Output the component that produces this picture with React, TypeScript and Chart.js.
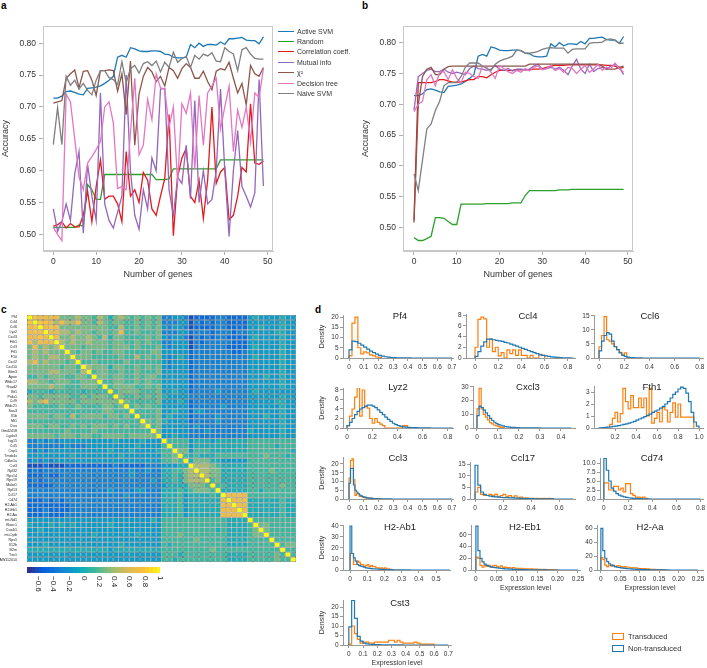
import React, { useEffect, useRef } from 'react';
import { Chart, registerables } from 'chart.js';

Chart.register(...registerables);

const FONT = '"Liberation Sans", Arial, Helvetica, sans-serif';
Chart.defaults.font.family = FONT;
Chart.defaults.color = '#333';

// ================= Panels a & b : accuracy vs number of genes =================
const numGenes = [0,1,2,3,4,5,6,7,8,9,10,11,12,13,14,15,16,17,18,19,20,21,22,23,24,25,26,27,28,29,30,31,32,33,34,35,36,37,38,39,40,41,42,43,44,45,46,47,48,49];
const geneTicks = [0, 10, 20, 30, 40, 50];
const accuracyTicks = [0.5, 0.55, 0.6, 0.65, 0.7, 0.75, 0.8];
const methodNames = ['Active SVM', 'Random', 'Correlation coeff.', 'Mutual info', 'χ²', 'Decision tree', 'Naive SVM'];
const methodColors = ['#1f77b4', '#2ca02c', '#e31a1c', '#9467bd', '#8c564b', '#e377c2', '#7f7f7f'];

const activeSvm = [0.714,0.714,0.717,0.724,0.725,0.723,0.720,0.719,0.729,0.730,0.731,0.733,0.737,0.742,0.748,0.778,0.781,0.778,0.793,0.791,0.788,0.787,0.787,0.788,0.788,0.787,0.783,0.782,0.778,0.777,0.777,0.778,0.798,0.793,0.800,0.795,0.798,0.798,0.797,0.802,0.798,0.807,0.807,0.808,0.809,0.805,0.804,0.804,0.799,0.810];

const aRandom = [0.511,0.511,0.511,0.511,0.511,0.511,0.515,0.513,0.578,0.570,0.555,0.555,0.594,0.594,0.594,0.594,0.594,0.594,0.594,0.594,0.594,0.594,0.594,0.594,0.586,0.586,0.586,0.587,0.603,0.603,0.603,0.603,0.603,0.603,0.603,0.603,0.603,0.603,0.603,0.617,0.617,0.617,0.617,0.617,0.617,0.617,0.617,0.617,0.617,0.617];
const aCorr = [0.513,0.515,0.520,0.510,0.517,0.512,0.512,0.530,0.568,0.520,0.575,0.617,0.555,0.560,0.560,0.548,0.520,0.630,0.560,0.570,0.550,0.597,0.585,0.540,0.530,0.560,0.588,0.688,0.498,0.590,0.620,0.635,0.560,0.550,0.585,0.525,0.585,0.700,0.580,0.598,0.605,0.523,0.530,0.560,0.605,0.598,0.705,0.612,0.610,0.615];
const aMutual = [0.540,0.505,0.520,0.548,0.522,0.595,0.630,0.502,0.610,0.560,0.522,0.722,0.548,0.522,0.510,0.535,0.560,0.750,0.600,0.530,0.508,0.570,0.540,0.620,0.600,0.728,0.729,0.570,0.530,0.590,0.580,0.640,0.556,0.710,0.550,0.600,0.548,0.555,0.600,0.728,0.600,0.497,0.600,0.663,0.575,0.560,0.543,0.565,0.743,0.576];
const aChi2 = [0.706,0.708,0.710,0.745,0.752,0.758,0.730,0.756,0.757,0.742,0.718,0.757,0.757,0.758,0.757,0.725,0.752,0.688,0.772,0.640,0.720,0.748,0.762,0.755,0.740,0.748,0.733,0.762,0.757,0.745,0.760,0.768,0.762,0.745,0.745,0.756,0.740,0.727,0.756,0.760,0.758,0.770,0.745,0.722,0.737,0.703,0.765,0.752,0.748,0.762];
const aTree = [0.511,0.500,0.490,0.720,0.708,0.650,0.590,0.570,0.612,0.622,0.633,0.646,0.700,0.708,0.675,0.572,0.575,0.570,0.660,0.745,0.625,0.640,0.712,0.680,0.752,0.730,0.728,0.668,0.700,0.580,0.705,0.690,0.722,0.602,0.718,0.640,0.722,0.733,0.745,0.665,0.700,0.733,0.630,0.695,0.668,0.700,0.645,0.722,0.715,0.760];
const aNaive = [0.641,0.699,0.641,0.748,0.734,0.742,0.728,0.737,0.726,0.719,0.742,0.757,0.757,0.746,0.743,0.735,0.771,0.738,0.760,0.765,0.753,0.768,0.771,0.765,0.772,0.755,0.770,0.762,0.786,0.770,0.776,0.779,0.762,0.781,0.775,0.783,0.780,0.785,0.772,0.771,0.793,0.787,0.783,0.757,0.790,0.793,0.783,0.776,0.775,0.775];

const bRandom = [0.484,0.479,0.479,0.482,0.486,0.516,0.516,0.515,0.510,0.505,0.505,0.538,0.538,0.538,0.538,0.538,0.538,0.539,0.539,0.539,0.539,0.539,0.539,0.540,0.540,0.540,0.552,0.560,0.560,0.560,0.560,0.560,0.560,0.560,0.561,0.561,0.561,0.562,0.562,0.562,0.562,0.562,0.562,0.562,0.562,0.562,0.562,0.562,0.562,0.562];
const bCorr = [0.512,0.735,0.735,0.735,0.735,0.737,0.740,0.740,0.738,0.736,0.736,0.736,0.738,0.740,0.740,0.745,0.745,0.743,0.748,0.752,0.755,0.755,0.755,0.755,0.756,0.756,0.756,0.756,0.757,0.757,0.758,0.760,0.762,0.763,0.763,0.763,0.764,0.764,0.764,0.764,0.764,0.764,0.764,0.764,0.764,0.763,0.763,0.762,0.758,0.760];
const bMutual = [0.690,0.745,0.750,0.755,0.757,0.753,0.753,0.757,0.752,0.750,0.752,0.750,0.748,0.758,0.762,0.758,0.757,0.755,0.757,0.763,0.757,0.755,0.758,0.754,0.757,0.757,0.756,0.757,0.762,0.765,0.757,0.758,0.760,0.757,0.760,0.755,0.748,0.762,0.773,0.757,0.750,0.765,0.753,0.758,0.760,0.757,0.762,0.765,0.760,0.748];
const bChi2 = [0.508,0.700,0.745,0.757,0.760,0.748,0.748,0.757,0.761,0.762,0.762,0.762,0.762,0.762,0.762,0.762,0.762,0.762,0.762,0.762,0.762,0.762,0.762,0.762,0.762,0.762,0.762,0.765,0.765,0.765,0.765,0.765,0.765,0.765,0.765,0.765,0.765,0.765,0.765,0.765,0.765,0.765,0.765,0.765,0.762,0.757,0.757,0.757,0.760,0.762];
const bTree = [0.688,0.700,0.705,0.740,0.748,0.730,0.752,0.753,0.740,0.756,0.742,0.735,0.752,0.750,0.745,0.742,0.762,0.760,0.752,0.742,0.763,0.758,0.753,0.750,0.755,0.752,0.758,0.754,0.760,0.762,0.756,0.758,0.763,0.755,0.758,0.752,0.760,0.758,0.750,0.757,0.763,0.752,0.757,0.765,0.755,0.760,0.758,0.767,0.758,0.752];
const bNaive = [0.587,0.560,0.610,0.660,0.668,0.690,0.705,0.730,0.735,0.735,0.735,0.745,0.760,0.767,0.767,0.767,0.762,0.758,0.755,0.765,0.770,0.773,0.775,0.778,0.788,0.787,0.783,0.783,0.784,0.786,0.789,0.791,0.792,0.791,0.791,0.791,0.783,0.789,0.790,0.790,0.790,0.799,0.800,0.800,0.801,0.805,0.806,0.804,0.799,0.799];

// ================= Panel c : gene-gene correlation heatmap =================
const heatGenes = ['Pf4','Ccl4','Ccl6','Lyz2','Cxcl3','Fth1','Ccl3','Ftl1','F10','Cxcl2','Cxcl10','Ifitm3','Apoe','Wfdc17','Rsad2','Ifit1','Prdx1','Ccl9','Wfdc21','Saa3','Il1b','Mt1','Ctss','Gm42418','Lgals3','Isg15','Ccl5','Crip1','Tmsb4x','Cdkn1a','Cst3','Rpl32','Rps14','Rps19','Malat1','Rpl13','Ccl17','Cd74','H2-Ab1','H2-Eb1','H2-Aa','mt-Nd1','Vkorc1','Cox4i1','mt-Cytb','Rps5','Il12b','B2m','Txn1','AW112010'];
// correlation value for each level code used in corrLower
const corrLevels = [-0.6, -0.45, -0.3, -0.15, 0, 0.13, 0.26, 0.42, 0.7, 0.8];
// lower triangle: row r holds the codes of columns 0..r-1 (spaces only for readability)
const corrLower = [
  '',
  '9',
  '89',
  '898',
  '8898',
  '87888',
  '68676 7',
  '67676 66',
  '67667 766',
  '78676 6656',
  '66666 65665',
  '66667 76665 7',
  '55656 66556 65',
  '77665 66655 666',
  '66667 66555 6665',
  '45554 55555 45555',
  '66566 66655 65666 5',
  '76786 66665 66666 66',
  '65555 56556 55556 656',
  '55555 55555 55556 6555',
  '66665 66575 66665 66565',
  '55555 55555 55555 55555 5',
  '66656 65565 65666 56565 56',
  '55555 55655 55655 55555 555',
  '66666 56665 66556 66656 6666',
  '22323 23333 33333 34333 34333',
  '22222 22322 23333 33333 43333 5',
  '32323 33333 33333 43334 33334 55',
  '33333 33343 33333 33433 33333 556',
  '23232 33333 33333 33333 33333 5565',
  '00010 00111 11111 12111 11222 33344',
  '12122 22222 22222 22223 22322 44556 7',
  '11121 12222 22222 22223 22222 44546 77',
  '12122 22222 22222 22222 22232 44546 777',
  '11111 22222 22222 22222 22222 34444 6665',
  '22222 22222 22222 32222 33222 44454 56665',
  '22222 22222 22222 22232 22222 44453 44445 4',
  '11121 21222 22222 22222 22222 44453 44444 48',
  '11111 11122 22222 22222 22222 44453 44444 488',
  '11121 11122 22222 22222 22222 44453 44444 4888',
  '11121 11222 22222 22222 22222 44453 44444 48888',
  '33333 33333 33333 33333 33343 55555 55555 55444 4',
  '43334 34343 33333 43333 33333 55555 55555 55444 45',
  '33433 33333 33333 33333 33333 55555 55555 45444 456',
  '33333 33333 33433 33333 43333 55565 55555 55444 4566',
  '33333 33333 33333 33333 33333 55555 56555 55444 45555',
  '33343 33333 33333 33433 33333 54555 55555 55444 45555 5',
  '44444 44444 44444 34444 44444 55555 55556 55555 55555 55',
  '33333 33333 33333 33333 33333 55545 55555 55444 45555 565',
  '33333 33333 33333 33333 33333 55455 55555 55444 45555 5655',
];
const colorbarTicks = [-0.6, -0.4, -0.2, 0, 0.2, 0.4, 0.6, 0.8, 1];
const colorbarTickLabels = ['−0.6', '−0.4', '−0.2', '0', '0.2', '0.4', '0.6', '0.8', '1'];

// ================= Panel d : expression-level histograms =================
const pf4Orange = [1,17,20,5,2,3,2.5,1.5,1,0.5,0.3];
const pf4Blue = [4,8.2,8,7.2,6.3,5.3,4.3,3.4,2.6,1.9,1.3,0.9,0.6,0.4,0.25,0.15,0.1,0.07,0.05,0.04,0.03];
const ccl4Orange = [2,7.2,7.6,7.3,2,3.5,1.2,2,0.4,1,0,1.5,0.8,1.5,0.5,1.5,0.5,0.5,0,0.5,0,0,0.7,0.5];
const ccl4Blue = [0.3,1.2,2.2,3.0,3.5,3.5,3.4,3.3,3.2,3.1,2.9,2.8,2.6,2.4,2.2,2.0,1.8,1.6,1.4,1.2,1.0,0.8,0.6,0.5,0.4,0.3,0.2,0.15,0.1,0.07,0.04,0.02,0.01];
const ccl6Orange = [4,8,14.7,6.5,6,5,4,3,2,1,1.8];
const ccl6Blue = [2.5,6,8,9,8.5,6,4,3,1.8,1,0.6,0.3,0.15,0.1,0.05,0.03,0.02];
const lyz2Orange = [0.5,2.5,4,6.5,8.5,2.5,8,4.5,4.2,2,1,2,1.2,0.8,0.5,0,0,0,0,0,0,0,0.5,0.5];
const lyz2Blue = [0.5,1.2,2,2.8,3.5,4,4.3,4.6,4.8,4.8,4.6,4.3,3.8,3.3,2.8,2.3,1.8,1.4,1.0,0.7,0.5,0.35,0.25,0.2,0.15,0.1,0.08,0.06,0.04,0.03,0.02,0.02,0.01];
const cxcl3Orange = [14,29,14,10,8,6,4,3,2,1.5,1,0.5,0.3];
const cxcl3Blue = [9,16,15,13,11,9,7,5.5,4.2,3.2,2.5,2,1.5,1.1,0.8,0.6,0.5,0.4,0.3,0.25,0.2,0.15,0.12,0.1,0.08,0.06,0.05,0.04,0.03,0.02];
const fth1Orange = [0.3,0.8,1.3,0.5,1.2,3.3,2.2,1.6,2.7,1.7,1.7,2.5,1.7,2.5,1.0,3.3,0.4,0.8,1.3,0.5,1.7,1.5,0.5,1.3,2.1,0.9,2.0,0.9,0.9,0.9,0.9,0.9];
const fth1Blue = [0.02,0.03,0.05,0.07,0.1,0.13,0.16,0.2,0.25,0.3,0.35,0.4,0.48,0.55,0.65,0.75,0.85,0.95,1.05,1.15,1.3,1.4,1.5,1.65,1.8,2.0,2.2,2.5,2.8,3.0,3.25,3.4,3.3,2.9,2.2,1.3,0.5,0.15];
const ccl3Orange = [12,22,23,11,2,3,3,1.5,1.5,1,1,0.5,0.5,0.2,0.2,0.5,0.3,0.3,0.2,0.1,0.3,0.2];
const ccl3Blue = [9,17.5,17.5,8,5,4,3,2.3,1.8,1.4,1.1,0.9,0.7,0.6,0.5,0.4,0.3,0.25,0.2,0.15,0.12,0.1,0.08,0.06,0.05,0.04,0.03,0.02,0.02,0.01];
const ccl17Orange = [3,5,2,1.5,1.5,2,1.5,2,1,1.5,2,1,1.5,0.7,1.3,0.5,0.8,0.3,0.5,0.3,0.3,0.2,0.3,0.2,0.3,0.2,0.3,0.2];
const ccl17Blue = [14.5,6,3,2,1.5,1.2,1,0.9,0.8,0.7,0.6,0.55,0.5,0.45,0.4,0.35,0.3,0.25,0.2,0.15,0.12,0.1,0.08,0.06,0.05,0.04,0.03,0.02];
const cd74Orange = [4.5,4.5,2.5,2.5,3.5,3.5,2.5,3,2,4.3,4.3,1.5,1,0.5,0.5,0.3,0.5,0.2];
const cd74Blue = [11.3,8,5,3,2.2,1.5,1.1,0.8,0.6,0.45,0.35,0.25,0.2,0.15,0.1,0.08,0.05,0.03,0.02];
const h2ab1Orange = [15,15,5,5,8,7,5,5,3,4,5,3,4,3,3,2,2,1,2,1,2,1,1,0.5];
const h2ab1Blue = [40,15,11,8,5,4,3.5,3,2.5,2,1.7,1.5,1.3,1.1,1,0.9,0.8,0.7,0.6,0.5,0.45,0.4,0.35,0.3,0.25,0.2,0.18,0.15,0.12,0.1,0.08,0.06,0.05,0.04,0.03,0.02];
const h2eb1Orange = [22,20,8,5,8,6,8,5,7,8,6,5,7,4,5,4,4,3,4,3,3,2,3,2,2,2,1.5,2,1,1.5,1,1,0.5,1,0.5,0.5,0.3,0.5,0.3,0.2];
const h2eb1Blue = [75,33,20,14,10,8,6.5,5.5,4.5,4,3.5,3,2.6,2.3,2,1.8,1.6,1.4,1.2,1.0,0.9,0.8,0.7,0.6,0.5,0.4,0.35,0.3,0.25,0.2,0.15,0.1,0.08,0.06,0.05,0.04,0.03,0.02,0.02,0.01];
const h2aaOrange = [18,15,7,5,7,6,7,5,6,6,5,4,5,4,4,3,3,3,3,2,2,2,2,1.5,1.5,1,1,1,0.5,0.5,0.5,0.3,0.3];
const h2aaBlue = [60,28,17,12,9,7,6,5,4.2,3.6,3.1,2.7,2.3,2,1.8,1.6,1.4,1.2,1.0,0.9,0.8,0.7,0.6,0.5,0.4,0.35,0.3,0.25,0.2,0.15,0.1,0.08,0.06,0.05,0.04,0.03,0.02];
const cst3Orange = [0.5,10,6,3,1,1.5,1.5,1,1,1.5,1.5,1.5,1.5,1.5,2.5,2.5,1.5,2.5,1.5,1,1,1,1,1.5,1,0.5,0.5,0.5,0.5,0.5];
const cst3Blue = [9.5,23.5,14,4.5,2,1,0.6,0.4,0.3,0.2,0.15,0.1,0.08,0.06,0.05,0.04,0.03,0.02,0.02,0.01];

const ticks07 = [0, 0.1, 0.2, 0.3, 0.4, 0.5, 0.6, 0.7];
const ticks08 = [0, 0.2, 0.4, 0.6, 0.8];

const histGenes = [
  { name: 'Pf4', orange: pf4Orange, blue: pf4Blue, oStart: 0, bStart: 0, width: 0.02, end: 0.7, xTicks: ticks07, xDec: 1, yTicks: [0,5,10,15,20], yDec: 0 },
  { name: 'Ccl4', orange: ccl4Orange, blue: ccl4Blue, oStart: 0, bStart: 0, width: 0.025, end: 0.85, xTicks: ticks08, xDec: 1, yTicks: [0,2,4,6,8], yDec: 0 },
  { name: 'Ccl6', orange: ccl6Orange, blue: ccl6Blue, oStart: 0, bStart: 0, width: 0.02, end: 0.8, xTicks: ticks08, xDec: 1, yTicks: [0,5,10,15], yDec: 0 },
  { name: 'Lyz2', orange: lyz2Orange, blue: lyz2Blue, oStart: 0, bStart: 0, width: 0.02, end: 0.84, xTicks: ticks08, xDec: 1, yTicks: [0,2,4,6,8], yDec: 0 },
  { name: 'Cxcl3', orange: cxcl3Orange, blue: cxcl3Blue, oStart: 0, bStart: 0, width: 0.01, end: 0.45, xTicks: [0,0.1,0.2,0.3,0.4], xDec: 1, yTicks: [0,10,20,30], yDec: 0 },
  { name: 'Fth1', orange: fth1Orange, blue: fth1Blue, oStart: 0.15, bStart: 0.05, width: 0.025, end: 1.0, xTicks: [0.2,0.4,0.6,0.8,1.0], xDec: 1, yTicks: [0,1,2,3], yDec: 0 },
  { name: 'Ccl3', orange: ccl3Orange, blue: ccl3Blue, oStart: 0, bStart: 0, width: 0.01, end: 0.7, xTicks: ticks07, xDec: 1, yTicks: [0,5,10,15,20], yDec: 0 },
  { name: 'Ccl17', orange: ccl17Orange, blue: ccl17Blue, oStart: 0, bStart: 0, width: 0.02, end: 0.7, xTicks: [0,0.2,0.4,0.6], xDec: 1, yTicks: [0,5,10,15], yDec: 0 },
  { name: 'Cd74', orange: cd74Orange, blue: cd74Blue, oStart: 0, bStart: 0, width: 0.02, end: 0.8, xTicks: ticks08, xDec: 1, yTicks: [0,2.5,5,7.5,10], yDec: 1 },
  { name: 'H2-Ab1', orange: h2ab1Orange, blue: h2ab1Blue, oStart: 0, bStart: 0, width: 0.01, end: 0.58, xTicks: [0,0.1,0.2,0.3,0.4,0.5], xDec: 1, yTicks: [0,10,20,30,40], yDec: 0 },
  { name: 'H2-Eb1', orange: h2eb1Orange, blue: h2eb1Blue, oStart: 0, bStart: 0, width: 0.005, end: 0.25, xTicks: [0,0.05,0.1,0.15,0.2,0.25], xDec: 2, yTicks: [0,20,40,60], yDec: 0 },
  { name: 'H2-Aa', orange: h2aaOrange, blue: h2aaBlue, oStart: 0, bStart: 0, width: 0.005, end: 0.25, xTicks: [0,0.05,0.1,0.15,0.2,0.25], xDec: 2, yTicks: [0,20,40,60], yDec: 0 },
  { name: 'Cst3', orange: cst3Orange, blue: cst3Blue, oStart: 0, bStart: 0, width: 0.02, end: 0.7, xTicks: ticks07, xDec: 1, yTicks: [0,5,10,15,20], yDec: 0 },
];

// ---------------- layout (positions / ranges, px) ----------------
const histLayout = [
  { L: 343, T: 315, R: 453, B: 358, xMin: -0.041, xMax: 0.707, yMax: 21, tx: 400, ty: 316, ylab: true, xlab: false },
  { L: 466, T: 314, R: 575, B: 358, xMin: -0.078, xMax: 0.862, yMax: 8.2, tx: 528, ty: 316, ylab: false, xlab: false },
  { L: 594, T: 315, R: 703, B: 358, xMin: -0.04, xMax: 0.825, yMax: 15.3, tx: 650, ty: 316, ylab: false, xlab: false },
  { L: 343, T: 388, R: 453, B: 428, xMin: -0.032, xMax: 0.841, yMax: 8.42, tx: 398, ty: 387, ylab: true, xlab: false },
  { L: 473, T: 386, R: 575, B: 428, xMin: -0.019, xMax: 0.467, yMax: 30.7, tx: 528, ty: 387, ylab: false, xlab: false },
  { L: 594, T: 386, R: 703, B: 428, xMin: 0, xMax: 1.038, yMax: 3.5, tx: 652, ty: 387, ylab: false, xlab: false },
  { L: 343, T: 457, R: 453, B: 499, xMin: -0.041, xMax: 0.707, yMax: 24, tx: 398, ty: 458, ylab: true, xlab: false },
  { L: 470, T: 462, R: 575, B: 499, xMin: -0.036, xMax: 0.714, yMax: 15.9, tx: 523, ty: 458, ylab: false, xlab: false },
  { L: 600, T: 458, R: 703, B: 499, xMin: -0.032, xMax: 0.82, yMax: 11.4, tx: 652, ty: 458, ylab: false, xlab: false },
  { L: 343, T: 525, R: 450, B: 570, xMin: -0.041, xMax: 0.581, yMax: 40.9, tx: 400, ty: 527, ylab: true, xlab: false },
  { L: 471, T: 525, R: 580, B: 570, xMin: -0.012, xMax: 0.255, yMax: 77, tx: 525, ty: 527, ylab: false, xlab: true },
  { L: 597, T: 525, R: 703, B: 570, xMin: -0.01, xMax: 0.263, yMax: 65, tx: 650, ty: 527, ylab: false, xlab: true },
  { L: 343, T: 600, R: 451, B: 645, xMin: -0.041, xMax: 0.719, yMax: 23.7, tx: 400, ty: 603, ylab: true, xlab: true },
];

const ORANGE = '#ff7f0e';
const BLUE = '#1f77b4';
const AXIS = '#999999';

// ---------------- helpers ----------------
const PARULA = [[53,42,135],[3,99,225],[20,129,214],[6,167,198],[56,185,158],[146,191,115],[217,186,86],[252,191,57],[249,251,14]];
function parula(v: number) {
  let t = (v + 0.75) / 1.75;
  t = Math.min(1, Math.max(0, t));
  const p = t * 8;
  const i = Math.min(7, Math.floor(p));
  const f = p - i;
  const a = PARULA[i], b = PARULA[i + 1];
  const c = (k: number) => Math.round(a[k] + (b[k] - a[k]) * f);
  return `rgb(${c(0)},${c(1)},${c(2)})`;
}

function corrMatrix() {
  const rows = corrLower.map((s) => s.replace(/\s/g, ''));
  const n = heatGenes.length;
  const M: number[][] = [];
  for (let r = 0; r < n; r++) {
    const row: number[] = [];
    for (let c = 0; c < n; c++) {
      if (r === c) { row.push(1); continue; }
      const hi = Math.max(r, c), lo = Math.min(r, c);
      const ch = rows[hi][lo];
      row.push(ch !== undefined ? corrLevels[Number(ch)] : 0);
    }
    M.push(row);
  }
  return M;
}

const fmt = (v: number, dec: number, zero: string) => (Math.abs(v) < 1e-9 ? zero : v.toFixed(dec));

const framePlugin = {
  id: 'frame',
  beforeDatasetsDraw(chart: any) {
    const { ctx, chartArea: a } = chart;
    ctx.save();
    ctx.strokeStyle = '#c8c8c8';
    ctx.lineWidth = 1;
    ctx.strokeRect(Math.round(a.left) + 0.5, Math.round(a.top) + 0.5, Math.round(a.right - a.left) - 1, Math.round(a.bottom - a.top) - 1);
    ctx.restore();
  },
};

function accuracyConfig(series: number[][], yMin: number, yMax: number, xMin: number, xMax: number, padRight: number) {
  return {
    type: 'line',
    data: {
      datasets: series.map((s, i) => ({
        label: methodNames[i],
        data: s.map((v, k) => ({ x: numGenes[k], y: v })),
        borderColor: methodColors[i],
        borderWidth: 1.3,
        pointRadius: 0,
        fill: false,
        tension: 0,
        order: -i,
      })),
    },
    options: {
      animation: false,
      responsive: false,
      events: [],
      layout: { padding: { top: 26, right: padRight, left: 0, bottom: 0 } },
      plugins: { legend: { display: false }, tooltip: { enabled: false } },
      scales: {
        x: {
          type: 'linear', min: xMin, max: xMax,
          afterBuildTicks: (s: any) => { s.ticks = geneTicks.map((v) => ({ value: v })); },
          afterFit: (s: any) => { s.height = 34; s.paddingLeft = 0; s.paddingRight = 0; },
          ticks: { font: { size: 8.5 }, color: '#333', padding: 2, maxRotation: 0, callback: (v: number) => String(v) },
          grid: { display: true, drawOnChartArea: false, tickLength: 4, color: '#b0b0b0' },
          border: { display: true, color: '#c8c8c8' },
          title: { display: true, text: 'Number of genes', font: { size: 9 }, color: '#333', padding: { top: 0, bottom: 5 } },
        },
        y: {
          type: 'linear', min: yMin, max: yMax,
          afterBuildTicks: (s: any) => { s.ticks = accuracyTicks.map((v) => ({ value: v })); },
          afterFit: (s: any) => { s.width = 43; s.paddingTop = 0; s.paddingBottom = 0; },
          ticks: { font: { size: 8.5 }, color: '#333', padding: 3, callback: (v: number) => v.toFixed(2) },
          grid: { display: true, drawOnChartArea: false, tickLength: 4, color: '#b0b0b0' },
          border: { display: true, color: '#c8c8c8' },
          title: { display: true, text: 'Accuracy', font: { size: 9 }, color: '#333', padding: { top: 0, bottom: 0 } },
        },
      },
    },
    plugins: [framePlugin],
  };
}

function histConfig(g: any, lay: any) {
  const xh = lay.xlab ? 23 : 12;
  const steps = (start: number, width: number, vals: number[], end?: number) => {
    const pts = [{ x: start, y: 0 }];
    vals.forEach((v, i) => pts.push({ x: start + i * width, y: v }));
    pts.push({ x: start + vals.length * width, y: 0 });
    if (end !== undefined) pts.push({ x: end, y: 0 });
    return pts;
  };
  const axisCommon = {
    grid: { display: true, drawOnChartArea: false, tickLength: 3, color: AXIS },
    border: { display: true, color: AXIS, width: 1 },
  };
  return {
    type: 'line',
    data: {
      datasets: [
        { label: 'Transduced', data: steps(g.oStart, g.width, g.orange), borderColor: ORANGE, borderWidth: 1.2, pointRadius: 0, stepped: true, fill: false, order: 1 },
        { label: 'Non-transduced', data: steps(g.bStart, g.width, g.blue, g.end), borderColor: BLUE, borderWidth: 1.2, pointRadius: 0, stepped: true, fill: false, order: 0 },
      ],
    },
    options: {
      animation: false,
      responsive: false,
      events: [],
      layout: { padding: { top: 4, right: 5, left: 0, bottom: 0 } },
      plugins: { legend: { display: false }, tooltip: { enabled: false } },
      scales: {
        x: {
          type: 'linear', min: lay.xMin, max: lay.xMax,
          afterBuildTicks: (s: any) => { s.ticks = g.xTicks.map((v: number) => ({ value: v })); },
          afterFit: (s: any) => { s.height = xh; s.paddingLeft = 0; s.paddingRight = 0; },
          ticks: { font: { size: 6.5 }, color: '#333', padding: 2, maxRotation: 0, autoSkip: false, callback: (v: number) => fmt(v, g.xDec, '0') },
          title: { display: lay.xlab, text: 'Expression level', font: { size: 7 }, color: '#333', padding: { top: 0, bottom: 1 } },
          ...axisCommon,
        },
        y: {
          type: 'linear', min: 0, max: lay.yMax,
          afterBuildTicks: (s: any) => { s.ticks = g.yTicks.map((v: number) => ({ value: v })); },
          afterFit: (s: any) => { s.width = 26; s.paddingTop = 0; s.paddingBottom = 0; },
          ticks: { font: { size: 6.5 }, color: '#333', padding: 1.5, autoSkip: false, callback: (v: number) => fmt(v, g.yDec, g.yDec ? (0).toFixed(g.yDec) : '0') },
          title: { display: lay.ylab, text: 'Density', font: { size: 7 }, color: '#333', padding: { top: 1, bottom: 0 } },
          ...axisCommon,
        },
      },
    },
  };
}

function heatmapConfig() {
  const M = corrMatrix();
  return {
    type: 'bar',
    data: {
      labels: heatGenes,
      datasets: heatGenes.map((g, r) => ({
        label: g,
        data: heatGenes.map(() => 1),
        backgroundColor: heatGenes.map((_, c) => parula(M[r][c])),
        borderColor: 'rgba(40,40,40,0.9)',
        borderWidth: 0.45,
        borderSkipped: false,
        barPercentage: 1,
        categoryPercentage: 1,
        inflateAmount: 0,
        stack: 'cells',
        xAxisID: 'x',
        yAxisID: 'y',
      })),
    },
    options: {
      animation: false,
      responsive: false,
      events: [],
      layout: { padding: { top: 3, right: 4, left: 0, bottom: 4 } },
      plugins: { legend: { display: false }, tooltip: { enabled: false } },
      scales: {
        x: { type: 'category', stacked: true, display: false },
        y: { type: 'linear', stacked: true, min: 0, max: heatGenes.length, reverse: true, display: false },
        yl: {
          type: 'category', labels: heatGenes, position: 'left', offset: true,
          grid: { display: false }, border: { display: false },
          ticks: { autoSkip: false, font: { size: 3.6 }, color: '#222', padding: 2 },
          afterFit: (s: any) => { s.width = 27; s.paddingTop = 0; s.paddingBottom = 0; },
        },
      },
    },
  };
}

const colorbarTickPlugin = {
  id: 'cbticks',
  afterDraw(chart: any) {
    const { ctx, chartArea } = chart;
    const sx = chart.scales.x;
    ctx.save();
    ctx.fillStyle = '#222';
    ctx.font = `8px ${FONT}`;
    ctx.textAlign = 'left';
    ctx.textBaseline = 'middle';
    colorbarTicks.forEach((v, i) => {
      const x = sx.getPixelForValue(v);
      ctx.save();
      ctx.translate(x, chartArea.bottom + 3);
      ctx.rotate(Math.PI / 2);
      ctx.fillText(colorbarTickLabels[i], 0, 0);
      ctx.restore();
    });
    ctx.restore();
  },
};

function colorbarConfig() {
  const segs: number[][] = [];
  for (let k = 0; k < 35; k++) segs.push([-0.75 + k * 0.05, -0.7 + k * 0.05]);
  return {
    type: 'bar',
    data: {
      labels: [''],
      datasets: segs.map(([a, b]) => ({
        data: [[a, b]],
        backgroundColor: parula((a + b) / 2),
        borderWidth: 0,
        grouped: false,
        barPercentage: 1,
        categoryPercentage: 1,
        inflateAmount: 0.4,
      })),
    },
    options: {
      indexAxis: 'y',
      animation: false,
      responsive: false,
      events: [],
      layout: { padding: { top: 2, right: 10, left: 7, bottom: 24 } },
      plugins: { legend: { display: false }, tooltip: { enabled: false } },
      scales: {
        x: { type: 'linear', min: -0.75, max: 1, display: false },
        y: { type: 'category', display: false },
      },
    },
    plugins: [colorbarTickPlugin],
  };
}

// ---------------- components ----------------
function ChartCanvas({ x, y, w, h, make }: { x: number; y: number; w: number; h: number; make: () => any }) {
  const ref = useRef<HTMLCanvasElement | null>(null);
  useEffect(() => {
    const chart = new Chart(ref.current as HTMLCanvasElement, make());
    return () => chart.destroy();
  }, []);
  return <canvas ref={ref} width={w} height={h} style={{ position: 'absolute', left: x, top: y, width: w, height: h }} />;
}

const panelLabel = (t: string, x: number, y: number) => (
  <div style={{ position: 'absolute', left: x, top: y, fontFamily: FONT, fontWeight: 'bold', fontSize: 10, lineHeight: '10px', color: '#000' }}>{t}</div>
);

export default function App() {
  const aSeries = [activeSvm, aRandom, aCorr, aMutual, aChi2, aTree, aNaive];
  const bSeries = [activeSvm, bRandom, bCorr, bMutual, bChi2, bTree, bNaive];
  return (
    <div style={{ position: 'absolute', left: 0, top: 0, width: 707, height: 668, overflow: 'hidden', background: '#fff', fontFamily: FONT }}>
      {panelLabel('a', 1, 1)}
      {panelLabel('b', 362, 1)}
      {panelLabel('c', 1, 305)}
      {panelLabel('d', 315, 305)}

      <ChartCanvas x={0} y={0} w={300} h={285} make={() => accuracyConfig(aSeries, 0.474, 0.827, -2.4, 51.24, 27)} />
      <ChartCanvas x={360} y={0} w={300} h={285} make={() => accuracyConfig(bSeries, 0.462, 0.827, -2.57, 51.2, 27)} />

      <div style={{ position: 'absolute', left: 278, top: 26 }}>
        {methodNames.map((n, i) => (
          <div key={n} style={{ position: 'absolute', left: 0, top: i * 10.4, height: 10, width: 90, display: 'flex', alignItems: 'center', whiteSpace: 'nowrap' }}>
            <span style={{ display: 'inline-block', width: 16, height: 0, borderTop: `1.4px solid ${methodColors[i]}`, marginRight: 3 }} />
            <span style={{ fontSize: 7, color: '#333' }}>{n}</span>
          </div>
        ))}
      </div>

      <ChartCanvas x={0} y={312} w={300} h={254} make={heatmapConfig} />
      <ChartCanvas x={20} y={565} w={150} h={32} make={colorbarConfig} />

      {histGenes.map((g, i) => {
        const lay = histLayout[i];
        const xh = lay.xlab ? 23 : 12;
        return (
          <ChartCanvas key={g.name} x={lay.L - 26} y={lay.T - 4} w={lay.R - lay.L + 31} h={lay.B - lay.T + 4 + xh} make={() => histConfig(g, lay)} />
        );
      })}
      {histGenes.map((g, i) => {
        const lay = histLayout[i];
        return (
          <div key={'t' + g.name} style={{ position: 'absolute', left: lay.tx - 40, top: lay.ty - 6, width: 80, textAlign: 'center', fontSize: 9.5, lineHeight: '12px', color: '#222' }}>{g.name}</div>
        );
      })}

      <div style={{ position: 'absolute', left: 612, top: 631 }}>
        {[['Transduced', ORANGE], ['Non-transduced', BLUE]].map(([n, c], i) => (
          <div key={n} style={{ position: 'absolute', left: 0, top: i * 12, height: 10, display: 'flex', alignItems: 'center', whiteSpace: 'nowrap' }}>
            <span style={{ display: 'inline-block', width: 10, height: 5, border: `1.5px solid ${c}`, marginRight: 4 }} />
            <span style={{ fontSize: 7.5, color: '#333' }}>{n}</span>
          </div>
        ))}
      </div>
    </div>
  );
}
